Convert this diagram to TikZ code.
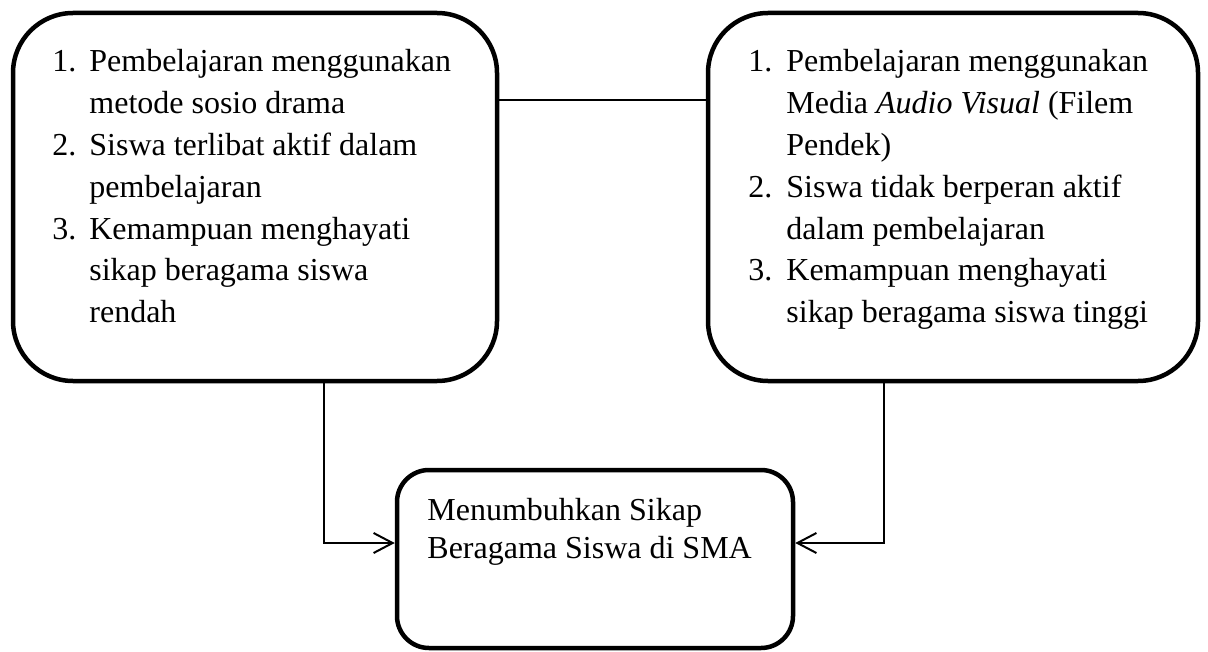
\documentclass[tikz,border=0pt]{standalone}
\usepackage{fontspec}
\setmainfont{Liberation Serif}
\usetikzlibrary{arrows.meta}
\begin{document}
\begin{tikzpicture}[x=0.5pt,y=-0.5pt,
  box/.style={draw, line width=2.25pt, inner sep=0pt},
  conn/.style={line width=1pt},
  arr/.style={conn, -{Straight Barb[length=9.5pt,width=10pt,line width=1pt]}},
  txt/.style={inner sep=0pt, anchor=base west, font=\fontsize{16}{20.9}\selectfont},
  txtb/.style={inner sep=0pt, anchor=base west, font=\fontsize{16}{19}\selectfont}
]
\useasboundingbox (0,0) rectangle (1208,652);
\node[box, rounded corners=30pt, minimum width=242pt, minimum height=184pt] (L) at (255,197) {};
\node[box, rounded corners=30pt, minimum width=245pt, minimum height=184pt] (R) at (953,197) {};
\node[box, rounded corners=16pt, minimum width=198pt, minimum height=89pt] (B) at (595,559) {};

\node[txt] (Lt) at (52,72) {\begin{tabular}[t]{@{}l@{}l@{}}
\makebox[18.5pt][l]{1.} & Pembelajaran menggunakan\\
 & metode sosio drama\\
\makebox[18.5pt][l]{2.} & Siswa terlibat aktif dalam\\
 & pembelajaran\\
\makebox[18.5pt][l]{3.} & Kemampuan menghayati\\
 & sikap beragama siswa\\
 & rendah
\end{tabular}};

\node[txt] (Rt) at (748,72) {\begin{tabular}[t]{@{}l@{}l@{}}
\makebox[19pt][l]{1.} & Pembelajaran menggunakan\\
 & Media \textit{Audio Visual} (Filem\\
 & Pendek)\\
\makebox[19pt][l]{2.} & Siswa tidak berperan aktif\\
 & dalam pembelajaran\\
\makebox[19pt][l]{3.} & Kemampuan menghayati\\
 & sikap beragama siswa tinggi
\end{tabular}};

\node[txtb] (Bt) at (427,520) {\begin{tabular}[t]{@{}l@{}}
Menumbuhkan Sikap\\
Beragama Siswa di SMA
\end{tabular}};

\coordinate (top) at (600,100);
\coordinate (lx) at (324,543);
\coordinate (rx) at (884,543);
\draw[conn] (L.east |- top) -- (R.west |- top);
\draw[arr] (L.south -| lx) -- (lx) -- (B.west |- lx);
\draw[arr] (R.south -| rx) -- (rx) -- (B.east |- rx);
\end{tikzpicture}
\end{document}
